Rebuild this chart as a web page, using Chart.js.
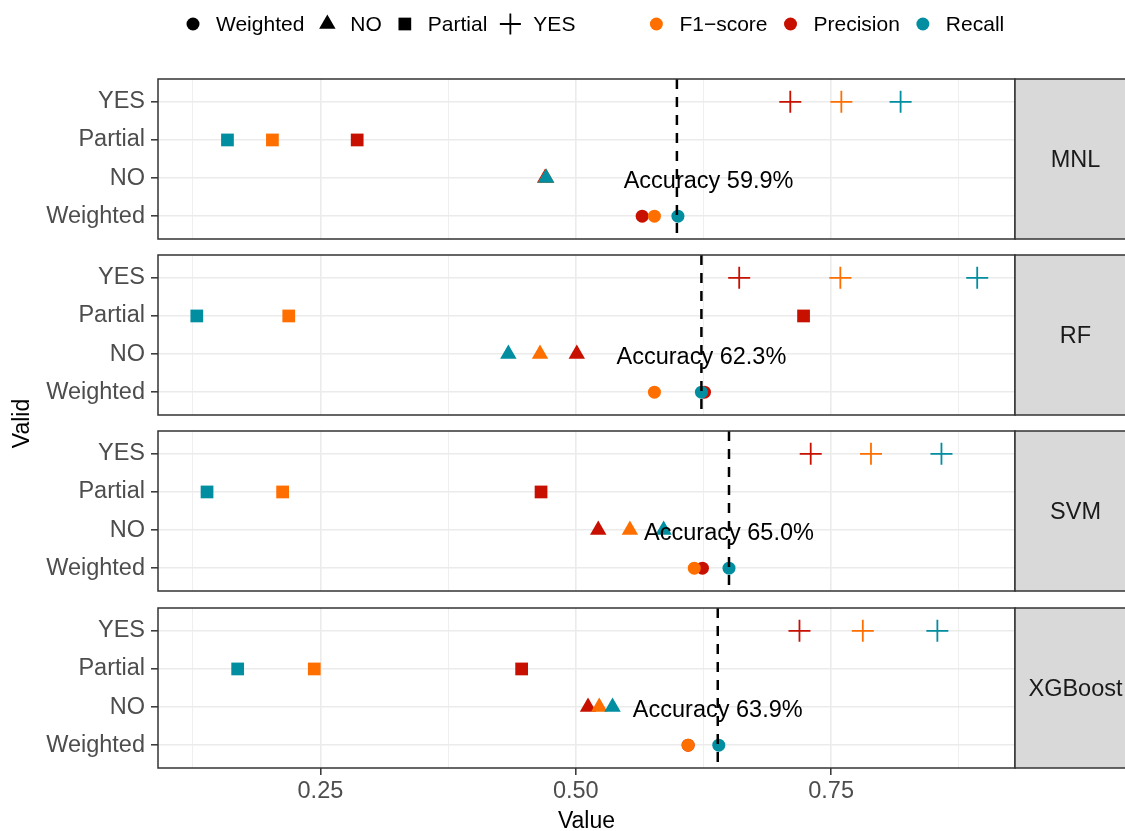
<!DOCTYPE html>
<html>
<head>
<meta charset="utf-8">
<script src="https://cdn.jsdelivr.net/npm/chart.js@4.4.1/dist/chart.umd.min.js"></script>
<style>
  html, body { margin: 0; padding: 0; background: #fff; }
  #wrap { position: relative; width: 1125px; height: 831px; overflow: hidden; }
  #wrap canvas { position: absolute; left: 0; top: 0; }
</style>
</head>
<body>
<div id="wrap">
  <canvas id="panel0" width="1125" height="831"></canvas>
  <canvas id="panel1" width="1125" height="831"></canvas>
  <canvas id="panel2" width="1125" height="831"></canvas>
  <canvas id="panel3" width="1125" height="831"></canvas>
</div>
<script>
// categories bottom -> top, as in the factor order of the plot
var categories = ['Weighted', 'NO', 'Partial', 'YES'];
var models = ['MNL', 'RF', 'SVM', 'XGBoost'];
var metrics = ['F1\u2212score', 'Precision', 'Recall'];

// values per model, in category order (Weighted, NO, Partial, YES)
var mnlF1 = [0.577, 0.471, 0.203, 0.760];
var mnlPrecision = [0.565, 0.470, 0.286, 0.710];
var mnlRecall = [0.600, 0.471, 0.159, 0.818];

var rfF1 = [0.577, 0.465, 0.219, 0.759];
var rfPrecision = [0.626, 0.501, 0.723, 0.660];
var rfRecall = [0.623, 0.434, 0.129, 0.893];

var svmF1 = [0.616, 0.553, 0.213, 0.789];
var svmPrecision = [0.624, 0.522, 0.466, 0.730];
var svmRecall = [0.650, 0.586, 0.139, 0.858];

var xgbF1 = [0.610, 0.523, 0.244, 0.781];
var xgbPrecision = [0.610, 0.512, 0.447, 0.719];
var xgbRecall = [0.640, 0.536, 0.169, 0.854];

var accuracy = [0.599, 0.623, 0.650, 0.639];
var accuracyLabelX = [0.630, 0.623, 0.650, 0.639];

var xTickValues = [0.125, 0.25, 0.375, 0.5, 0.625, 0.75, 0.875];
var xTickLabels = ['', '0.25', '', '0.50', '', '0.75', ''];

var panelValues = [
  [mnlF1, mnlPrecision, mnlRecall],
  [rfF1, rfPrecision, rfRecall],
  [svmF1, svmPrecision, svmRecall],
  [xgbF1, xgbPrecision, xgbRecall]
];

// styling / layout
var FONT = "'Liberation Sans', Arial, Helvetica, sans-serif";
var metricColors = ['#FF6F00', '#C71000', '#008EA0'];
var metricOrder = [1, 2, 0]; // recall on top, precision at the back
var shapes = ['circle', 'triangle', 'rect', 'cross'];
var shapeRadius = [6.5, 9.5, 9, 11];
var legendRadius = [6.5, 9.5, 9, 10.5];
var panelTops = [79, 255, 431, 608];
var panelBottoms = [239, 415, 591, 768];
var xMin = 0.091, xMax = 0.930;
var axisWidth = 158, stripSpace = 110, stripWidth = 121, xAxisHeight = 63;

function isMajor(v) {
  var i = xTickValues.indexOf(v);
  return i >= 0 && xTickLabels[i] !== '';
}

function drawLegend(ctx) {
  var draw = Chart.helpers.drawPoint;
  ctx.save();
  ctx.font = '21px ' + FONT;
  ctx.textBaseline = 'middle';
  ctx.textAlign = 'left';
  var y = 24, x = 193;
  categories.forEach(function (c, i) {
    ctx.fillStyle = '#000';
    ctx.strokeStyle = '#000';
    ctx.lineWidth = 1.8;
    draw(ctx, { pointStyle: shapes[i], radius: legendRadius[i], rotation: 0, borderWidth: shapes[i] === 'cross' ? 1.8 : 0 }, x, y);
    ctx.fillText(c, x + 23, y + 1.5);
    x = x + 23 + ctx.measureText(c).width + 23;
  });
  x += 58;
  metrics.forEach(function (m, i) {
    ctx.fillStyle = metricColors[i];
    draw(ctx, { pointStyle: 'circle', radius: 6.5, rotation: 0, borderWidth: 0 }, x, y);
    ctx.fillStyle = '#000';
    ctx.fillText(m, x + 23, y + 1.5);
    x = x + 23 + ctx.measureText(m).width + 23;
  });
  // shared y axis title
  ctx.translate(23, (panelTops[0] + panelBottoms[3]) / 2);
  ctx.rotate(-Math.PI / 2);
  ctx.font = '23px ' + FONT;
  ctx.textAlign = 'center';
  ctx.fillText('Valid', 0, 0);
  ctx.restore();
}

var panelPlugin = {
  id: 'panelDecor',
  afterDatasetsDraw: function (chart) {
    var ctx = chart.ctx, a = chart.chartArea;
    var p = chart.options.plugins.panelDecor;
    var xs = chart.scales.x, ys = chart.scales.y;
    ctx.save();
    // accuracy reference line
    var ax = xs.getPixelForValue(accuracy[p.index]);
    ctx.strokeStyle = '#000';
    ctx.lineWidth = 2.5;
    ctx.setLineDash([10, 8]);
    ctx.beginPath();
    ctx.moveTo(ax, a.top);
    ctx.lineTo(ax, a.bottom);
    ctx.stroke();
    ctx.setLineDash([]);
    // accuracy label
    ctx.fillStyle = '#000';
    ctx.font = '23.5px ' + FONT;
    ctx.textAlign = 'center';
    ctx.textBaseline = 'middle';
    ctx.fillText('Accuracy ' + (accuracy[p.index] * 100).toFixed(1) + '%',
      xs.getPixelForValue(accuracyLabelX[p.index]), ys.getPixelForValue(categories.indexOf('NO') - 0.1));
    // panel border
    ctx.strokeStyle = '#333333';
    ctx.lineWidth = 1.5;
    ctx.strokeRect(a.left, a.top, a.right - a.left, a.bottom - a.top);
    // facet strip
    ctx.fillStyle = '#D9D9D9';
    ctx.fillRect(a.right, a.top, stripWidth, a.bottom - a.top);
    ctx.strokeRect(a.right, a.top, stripWidth, a.bottom - a.top);
    ctx.fillStyle = '#1A1A1A';
    ctx.fillText(models[p.index], a.right + stripWidth / 2, (a.top + a.bottom) / 2 + 2);
    ctx.restore();
  },
  afterDraw: function (chart) {
    if (chart.options.plugins.panelDecor.index === 0) drawLegend(chart.ctx);
  }
};

models.forEach(function (model, pi) {
  var last = pi === models.length - 1;
  var datasets = metrics.map(function (m, mi) {
    return {
      label: m,
      order: metricOrder[mi],
      data: panelValues[pi][mi].map(function (v, ci) { return { x: v, y: ci }; }),
      backgroundColor: metricColors[mi],
      borderColor: metricColors[mi],
      pointStyle: function (c) { return shapes[c.dataIndex] || 'circle'; },
      pointRadius: function (c) { return shapeRadius[c.dataIndex] || 6; },
      pointHoverRadius: function (c) { return shapeRadius[c.dataIndex] || 6; },
      pointBorderWidth: function (c) { return shapes[c.dataIndex] === 'cross' ? 1.8 : 0; },
      clip: false
    };
  });

  new Chart(document.getElementById('panel' + pi), {
    type: 'scatter',
    data: { datasets: datasets },
    plugins: [panelPlugin],
    options: {
      responsive: false,
      animation: false,
      devicePixelRatio: 1,
      layout: {
        autoPadding: false,
        padding: {
          top: panelTops[pi],
          bottom: 831 - panelBottoms[pi] - (last ? xAxisHeight : 0),
          left: 0,
          right: stripSpace
        }
      },
      plugins: {
        legend: { display: false },
        tooltip: { enabled: false },
        panelDecor: { index: pi }
      },
      scales: {
        x: {
          type: 'linear',
          min: xMin,
          max: xMax,
          afterBuildTicks: function (s) {
            s.ticks = xTickValues.map(function (v) { return { value: v }; });
          },
          afterFit: function (s) {
            s.height = last ? xAxisHeight : 0;
            s.paddingLeft = 0; s.paddingRight = 0;
          },
          border: { display: false },
          grid: {
            color: '#EBEBEB',
            lineWidth: function (c) { return c.tick && isMajor(c.tick.value) ? 1.6 : 0.8; },
            drawTicks: last,
            tickLength: 7,
            tickWidth: 1.5,
            tickColor: function (c) { return c.tick && isMajor(c.tick.value) ? '#333333' : 'rgba(0,0,0,0)'; }
          },
          ticks: {
            display: last,
            autoSkip: false,
            maxRotation: 0,
            padding: 2,
            color: '#4D4D4D',
            font: { family: FONT, size: 23.5 },
            callback: function (v) { return xTickLabels[xTickValues.indexOf(v)] || ''; }
          },
          title: {
            display: last,
            text: 'Value',
            color: '#000',
            padding: { top: 0, bottom: 0 },
            font: { family: FONT, size: 23, lineHeight: 0.85 }
          }
        },
        y: {
          type: 'linear',
          min: -0.6,
          max: categories.length - 1 + 0.6,
          afterBuildTicks: function (s) {
            s.ticks = categories.map(function (c, i) { return { value: i }; });
          },
          afterFit: function (s) {
            s.width = axisWidth;
            s.paddingTop = 0; s.paddingBottom = 0;
          },
          border: { display: false },
          grid: {
            color: '#EBEBEB',
            lineWidth: 1.6,
            drawTicks: true,
            tickLength: 7,
            tickWidth: 1.5,
            tickColor: '#333333'
          },
          ticks: {
            padding: 6,
            color: '#4D4D4D',
            font: { family: FONT, size: 23.5 },
            callback: function (v) { return categories[v]; }
          }
        }
      }
    }
  });
});
</script>
</body>
</html>
